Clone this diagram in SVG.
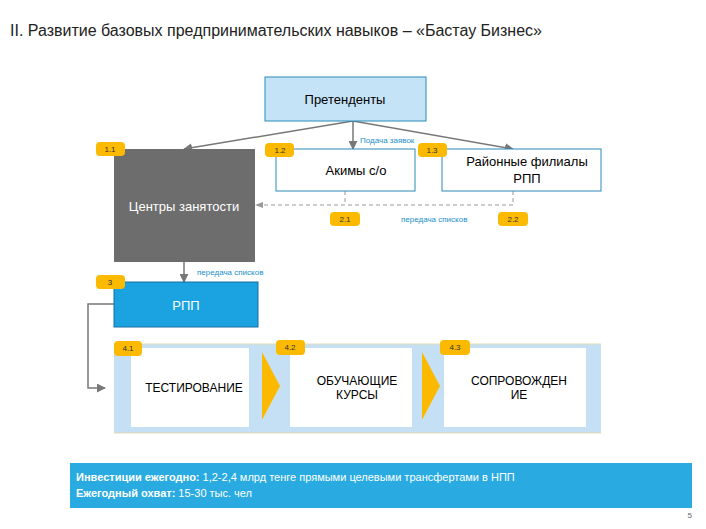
<svg xmlns="http://www.w3.org/2000/svg" width="706" height="529" viewBox="0 0 706 529">
<style>
text{font-family:"Liberation Sans",Arial,sans-serif}
.b rect{fill:#fbb900}
.b text{font-size:8px;fill:#333;text-anchor:middle}
.lbl{font-size:8px;fill:#1a8fc9}
.c{stroke:#777;stroke-width:1.5;fill:none}
.d{stroke:#999;stroke-width:1;fill:none;stroke-dasharray:4 3}
</style>
<defs>
<marker id="a" viewBox="0 0 10 10" refX="9" refY="5" markerWidth="6" markerHeight="6" orient="auto"><path d="M0,0L10,5L0,10z" fill="#777"/></marker>
</defs>
<rect width="706" height="529" fill="#fff"/>
<text x="10" y="36" font-size="16" fill="#222">II. Развитие базовых предпринимательских навыков – «Бастау Бизнес»</text>
<g id="connectors">
<path class="c" d="M353,121 L184,149" marker-end="url(#a)"/>
<path class="c" d="M353,121 L353,149" marker-end="url(#a)"/>
<path class="c" d="M353,121 L513,149" marker-end="url(#a)"/>
<path class="d" d="M345,191 V205 M513,191 V205 H257"/>
<path d="M263,202 L255,205 L263,208z" fill="#999"/>
<path class="c" d="M184,262 V282" marker-end="url(#a)"/>
<path class="c" d="M114,304 H88 V388 H105" stroke-width="1" marker-end="url(#a)"/>
<text class="lbl" x="360" y="143">Подача заявок</text>
<text class="lbl" x="401" y="222">передача списков</text>
<text class="lbl" x="197" y="275">передача списков</text>
</g>
<g id="pretendenty"><rect x="265" y="77" width="161" height="44" fill="#c5e3f7" stroke="#2a8ab8"/><text x="345" y="104" font-size="13" text-anchor="middle">Претенденты</text></g>
<g id="centry"><rect x="114" y="149" width="141" height="113" fill="#6d6d6d"/><text x="184" y="211" font-size="13" fill="#fff" text-anchor="middle">Центры занятости</text></g>
<g id="akimy"><rect x="276" y="149" width="139" height="42" fill="#fff" stroke="#2a8ab8"/><text x="356" y="175" font-size="13" text-anchor="middle">Акимы с/о</text></g>
<g id="filialy"><rect x="442" y="149" width="159" height="42" fill="#fff" stroke="#2a8ab8"/><text x="527" y="166" font-size="13" text-anchor="middle">Районные филиалы</text><text x="527" y="183" font-size="13" text-anchor="middle">РПП</text></g>
<g id="rpp"><rect x="114" y="282" width="144" height="45" fill="#1aa3e0" stroke="#1a6fa0"/><text x="186" y="310" font-size="13" fill="#fff" text-anchor="middle">РПП</text></g>
<g id="process">
<rect x="114" y="344" width="487" height="89" fill="#c5e0f5"/>
<line x1="114" y1="344" x2="601" y2="344" stroke="#e0dcb0"/><line x1="114" y1="433" x2="601" y2="433" stroke="#e0dcb0"/>
<rect x="131" y="348" width="118" height="79" fill="#fff"/>
<rect x="290" y="348" width="122" height="79" fill="#fff"/>
<rect x="444" y="348" width="142" height="79" fill="#fff"/>
<path d="M262,352 L280,386 L262,420z" fill="#fbb900"/>
<path d="M422,352 L440,386 L422,420z" fill="#fbb900"/>
<text x="194" y="392" font-size="12" text-anchor="middle">ТЕСТИРОВАНИЕ</text>
<text x="357" y="385" font-size="12" text-anchor="middle">ОБУЧАЮЩИЕ</text><text x="357" y="399" font-size="12" text-anchor="middle">КУРСЫ</text>
<text x="519" y="385" font-size="12" text-anchor="middle">СОПРОВОЖДЕН</text><text x="519" y="399" font-size="12" text-anchor="middle">ИЕ</text>
</g>
<g class="b" id="badges">
<rect x="96" y="142" width="29" height="14" rx="4"/><text x="110" y="152">1.1</text>
<rect x="265" y="143" width="29" height="14" rx="4"/><text x="280" y="153">1.2</text>
<rect x="418" y="143" width="29" height="14" rx="4"/><text x="432" y="153">1.3</text>
<rect x="330" y="212" width="30" height="14" rx="4"/><text x="345" y="222">2.1</text>
<rect x="498" y="212" width="30" height="14" rx="4"/><text x="513" y="222">2.2</text>
<rect x="96" y="275" width="29" height="14" rx="4"/><text x="110" y="285">3</text>
<rect x="114" y="341" width="28" height="15" rx="4"/><text x="128" y="351">4.1</text>
<rect x="276" y="340" width="29" height="15" rx="4"/><text x="290" y="350">4.2</text>
<rect x="440" y="340" width="30" height="15" rx="4"/><text x="455" y="350">4.3</text>
</g>
<g id="footer">
<rect x="70" y="463" width="622" height="45" fill="#29abe2"/>
<text x="76" y="481" font-size="11" fill="#fff"><tspan font-weight="bold">Инвестиции ежегодно:</tspan> 1,2-2,4 млрд тенге прямыми целевыми трансфертами в НПП</text>
<text x="76" y="497" font-size="11" fill="#fff"><tspan font-weight="bold">Ежегодный охват:</tspan> 15-30 тыс. чел</text>
<text x="692" y="518" font-size="8" fill="#666" text-anchor="end">5</text>
</g>
</svg>
